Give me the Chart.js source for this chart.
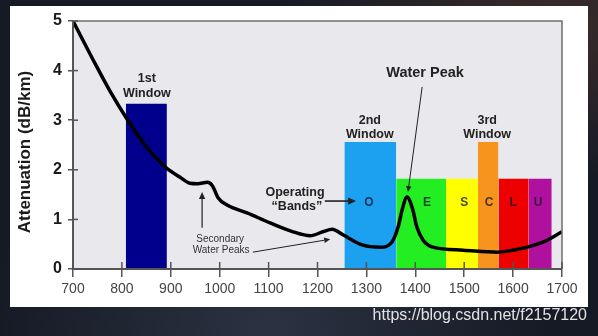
<!DOCTYPE html>
<html>
<head>
<meta charset="utf-8">
<script src="https://cdn.jsdelivr.net/npm/chart.js@4.4.0/dist/chart.umd.min.js"></script>
<style>
    html, body { margin: 0; padding: 0; }
    body {
        width: 598px; height: 336px; overflow: hidden; position: relative;
        background:
            radial-gradient(ellipse at 92% 8%, #3a2b2a 0%, rgba(0,0,0,0) 35%),
            radial-gradient(ellipse at 45% 100%, #2c3242 0%, rgba(0,0,0,0) 60%),
            #161a25;
    }
    #card { position: absolute; left: 10px; top: 6px; width: 578px; height: 301px; background: #fff; }
    #chartBox { position: absolute; left: 0; top: 0; width: 598px; height: 336px; }
    #mark {
        position: absolute; right: 11px; top: 306px; line-height: 18px;
        font: 16px "Liberation Sans", Arial, sans-serif; color: #e2e2e2;
    }
</style>
</head>
<body>
<div id="card"></div>
<div id="chartBox"><canvas id="myChart" width="598" height="336"></canvas></div>
<div id="mark">https://blog.csdn.net/f2157120</div>
<script>
const fontFamily = '"Liberation Sans", Arial, sans-serif';

// attenuation curve
const wavelength = [700, 741, 776, 810, 851, 878, 892, 919, 939, 955, 975, 985, 997, 1015, 1056, 1103, 1150, 1185, 1211, 1230, 1252, 1293, 1328, 1352, 1365, 1373, 1383, 1395, 1403, 1416, 1436, 1498, 1567, 1620, 1661, 1700];
const attenuation = [5.0, 4.22, 3.58, 3.03, 2.45, 2.16, 2.03, 1.85, 1.73, 1.72, 1.75, 1.68, 1.43, 1.29, 1.13, 0.93, 0.75, 0.67, 0.75, 0.80, 0.69, 0.48, 0.44, 0.54, 0.85, 1.19, 1.45, 1.19, 0.85, 0.58, 0.44, 0.38, 0.34, 0.42, 0.54, 0.75];

// windows and bands
const bandStart = [808, 1255, 1361, 1463, 1528, 1570, 1632];
const bandEnd = [892, 1361, 1463, 1528, 1570, 1632, 1679];
const bandHeight = [3.33, 2.56, 1.82, 1.82, 2.56, 1.82, 1.82];
const bandColors = ['#00008c', '#1ca0f0', '#22ee22', '#ffff00', '#f7941d', '#ec0000', '#b0109e'];

const bandLetters = ['O', 'E', 'S', 'C', 'L', 'U'];
const bandLetterX = [1305, 1424, 1500, 1551, 1600, 1651];
const bandLetterY = 1.33;

const windowLabels = [['1st', 'Window'], ['2nd', 'Window'], ['3rd', 'Window']];
const windowLabelX = [851, 1307, 1547];
const windowLabelY = [3.83, 3.0, 3.0];

const xTicks = [700, 800, 900, 1000, 1100, 1200, 1300, 1400, 1500, 1600, 1700];
const yTicks = [0, 1, 2, 3, 4, 5];

// arrows: x1, y1, x2 (tip), y2 (tip), line width, head size
const arrows = [
    [1414, 3.67, 1385, 1.55, 1, 6],
    [1215, 1.37, 1279, 1.37, 1.6, 8],
    [964, 0.83, 964, 1.55, 1.2, 7],
    [1068, 0.34, 1226, 0.60, 1, 6]
];

function drawArrow(ctx, x1, y1, x2, y2, width, head) {
    let ang = Math.atan2(y2 - y1, x2 - x1);
    let bx = x2 - head * Math.cos(ang);
    let by = y2 - head * Math.sin(ang);
    ctx.lineWidth = width;
    ctx.beginPath();
    ctx.moveTo(x1, y1);
    ctx.lineTo(bx, by);
    ctx.stroke();
    ctx.beginPath();
    ctx.moveTo(x2, y2);
    ctx.lineTo(bx + head * 0.45 * Math.sin(ang), by - head * 0.45 * Math.cos(ang));
    ctx.lineTo(bx - head * 0.45 * Math.sin(ang), by + head * 0.45 * Math.cos(ang));
    ctx.closePath();
    ctx.fill();
}

const decorPlugin = {
    id: 'decor',
    beforeDraw(chart) {
        let a = chart.chartArea;
        let ctx = chart.ctx;
        ctx.save();
        ctx.fillStyle = '#e9e8ec';
        ctx.fillRect(a.left, a.top, a.right - a.left, a.bottom - a.top);
        ctx.restore();
    },
    afterDatasetsDraw(chart) {
        let a = chart.chartArea;
        let ctx = chart.ctx;
        let sx = chart.scales.x;
        let sy = chart.scales.y;
        ctx.save();

        // frame and inner ticks
        ctx.strokeStyle = '#6e6e6e';
        ctx.lineWidth = 1.5;
        ctx.beginPath();
        ctx.moveTo(a.left, a.top);
        ctx.lineTo(a.right, a.top);
        ctx.lineTo(a.right, a.bottom);
        ctx.stroke();
        ctx.strokeStyle = '#555';
        ctx.lineWidth = 2;
        ctx.beginPath();
        ctx.moveTo(a.left, a.top);
        ctx.lineTo(a.left, a.bottom);
        ctx.lineTo(a.right, a.bottom);
        ctx.stroke();
        ctx.lineWidth = 1.5;
        xTicks.forEach(v => {
            let px = sx.getPixelForValue(v);
            ctx.beginPath();
            ctx.moveTo(px, a.bottom);
            ctx.lineTo(px, a.bottom - 7);
            ctx.stroke();
        });
        yTicks.forEach(v => {
            let py = sy.getPixelForValue(v);
            ctx.beginPath();
            ctx.moveTo(a.left, py);
            ctx.lineTo(a.left + 5, py);
            ctx.stroke();
        });

        // labels
        ctx.textAlign = 'center';
        ctx.textBaseline = 'middle';
        ctx.fillStyle = '#222';
        ctx.font = 'bold 12.5px ' + fontFamily;
        windowLabels.forEach((lines, i) => {
            let px = sx.getPixelForValue(windowLabelX[i]);
            let py = sy.getPixelForValue(windowLabelY[i]);
            ctx.fillText(lines[0], px, py);
            ctx.fillText(lines[1], px, py + 14.5);
        });

        ctx.font = 'bold 14.5px ' + fontFamily;
        ctx.fillText('Water Peak', sx.getPixelForValue(1420), sy.getPixelForValue(3.95));

        ctx.font = 'bold 12.5px ' + fontFamily;
        ctx.fillText('Operating', sx.getPixelForValue(1154), sy.getPixelForValue(1.55));
        ctx.fillText('\u201cBands\u201d', sx.getPixelForValue(1158), sy.getPixelForValue(1.25));

        ctx.fillStyle = 'rgba(25, 25, 45, 0.8)';
        ctx.font = 'bold 12px ' + fontFamily;
        bandLetters.forEach((t, i) => {
            ctx.fillText(t, sx.getPixelForValue(bandLetterX[i]), sy.getPixelForValue(bandLetterY));
        });

        ctx.fillStyle = '#333';
        ctx.font = '10px ' + fontFamily;
        ctx.fillText('Secondary', sx.getPixelForValue(1001), sy.getPixelForValue(0.60));
        ctx.fillText('Water Peaks', sx.getPixelForValue(1003), sy.getPixelForValue(0.38));

        ctx.strokeStyle = '#222';
        ctx.fillStyle = '#222';
        arrows.forEach(r => {
            drawArrow(ctx, sx.getPixelForValue(r[0]), sy.getPixelForValue(r[1]),
                sx.getPixelForValue(r[2]), sy.getPixelForValue(r[3]), r[4], r[5]);
        });

        // y axis title
        ctx.translate(25, 152);
        ctx.rotate(-Math.PI / 2);
        ctx.fillStyle = '#1a1a1a';
        ctx.font = 'bold 17px ' + fontFamily;
        ctx.fillText('Attenuation (dB/km)', 0, 0);
        ctx.restore();
    }
};

let datasets = [{
    data: wavelength.map((w, i) => ({ x: w, y: attenuation[i] })),
    borderColor: '#000',
    borderWidth: 3.5,
    cubicInterpolationMode: 'monotone',
    fill: false,
    pointRadius: 0,
    order: 0
}];

bandStart.forEach((s, i) => {
    datasets.push({
        data: [{ x: s, y: bandHeight[i] }, { x: bandEnd[i], y: bandHeight[i] }],
        borderColor: 'rgba(0,0,0,0)',
        borderWidth: 0,
        backgroundColor: bandColors[i],
        fill: 'origin',
        pointRadius: 0,
        order: 1
    });
});

var ctx = document.getElementById('myChart').getContext('2d');
var myChart = new Chart(ctx, {
    type: 'line',
    data: { datasets: datasets },
    options: {
        responsive: false,
        animation: false,
        layout: { padding: { top: 21, right: 36, left: 0, bottom: 0 } },
        plugins: { legend: { display: false }, tooltip: { enabled: false } },
        scales: {
            x: {
                type: 'linear',
                min: 700,
                max: 1700,
                afterFit: s => { s.height = 67; },
                afterBuildTicks: s => { s.ticks = xTicks.map(v => ({ value: v })); },
                grid: { drawOnChartArea: false, tickLength: 8, color: '#555', lineWidth: 1.5 },
                border: { display: false },
                ticks: {
                    color: '#444', font: { family: fontFamily, size: 14 }, padding: 4, maxRotation: 0,
                    callback: v => String(v)
                }
            },
            y: {
                min: 0,
                max: 5,
                afterFit: s => { s.width = 73; },
                afterBuildTicks: s => { s.ticks = yTicks.map(v => ({ value: v })); },
                grid: { drawOnChartArea: false, tickLength: 5, color: '#555', lineWidth: 1.5 },
                border: { display: false },
                ticks: { color: '#1a1a1a', font: { family: fontFamily, size: 16, weight: 'bold' }, padding: 6 }
            }
        }
    },
    plugins: [decorPlugin]
});
</script>
</body>
</html>
